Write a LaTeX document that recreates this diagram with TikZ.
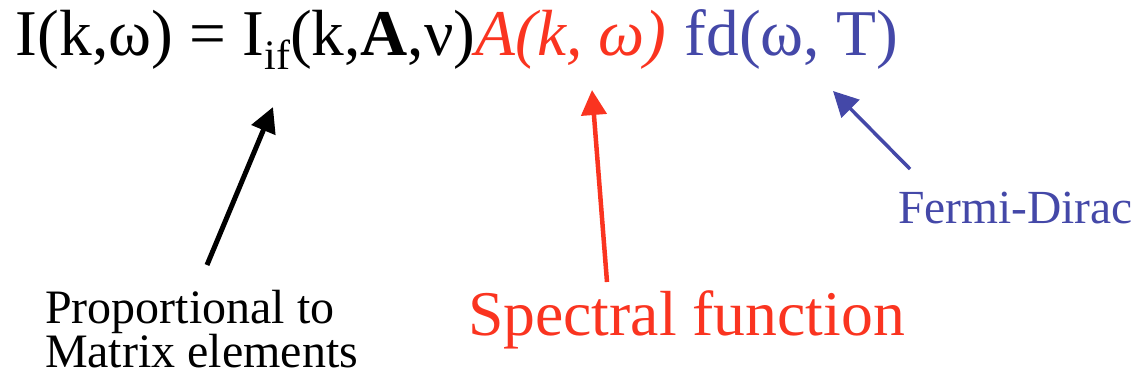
\documentclass[tikz,border=0pt]{standalone}
\usepackage{fontspec}
\setmainfont{Liberation Serif}
\usetikzlibrary{arrows.meta}
\definecolor{myred}{RGB}{250,52,32}
\definecolor{myblue}{RGB}{68,72,168}
\begin{document}
\begin{tikzpicture}[x=1pt,y=-1pt,
  txt/.style={anchor=base west, inner sep=0pt, outer sep=0pt},
  big/.style={font=\fontsize{65.3}{65}\selectfont},
  mid/.style={font=\fontsize{63.7}{64}\selectfont},
  small/.style={font=\fontsize{48}{44}\selectfont},
  arr/.style={line width=#1, -{Triangle[length=25,width=25]}},
]
\useasboundingbox (0,0) rectangle (1140,389);
\node[txt,big] (f1) at (16,55) {I(k,ω) = I\raisebox{-0.22em}{\fontsize{42}{42}\selectfont if}(k,\textbf{A},ν)};
\node[txt,big,text=myred] (f2) at (f1.base east) {\textit{A(k, ω)}};
\node[txt,big,text=myblue] (f3) at ([xshift=18]f2.base east) {fd(ω, T)};

\node[txt,small,align=left] (lm) at (45,367) {Proportional to\\Matrix elements};
\node[txt,mid,text=myred] (ls) at (468,335) {Spectral function};
\node[txt,text=myblue,font=\fontsize{47.5}{44}\selectfont] (lf) at (898,223) {Fermi-Dirac};

\coordinate (tm) at (207,265);
\coordinate (hm) at (273,107);
\coordinate (ts) at (607,282);
\coordinate (hs) at (592,90);
\coordinate (tf) at (910,169);
\coordinate (hf) at (833,91);

\draw[arr=5, black] (tm) -- (hm);
\draw[arr=4.5, myred] (ts) -- (hs);
\draw[arr=3.5, myblue] (tf) -- (hf);
\end{tikzpicture}
\end{document}
